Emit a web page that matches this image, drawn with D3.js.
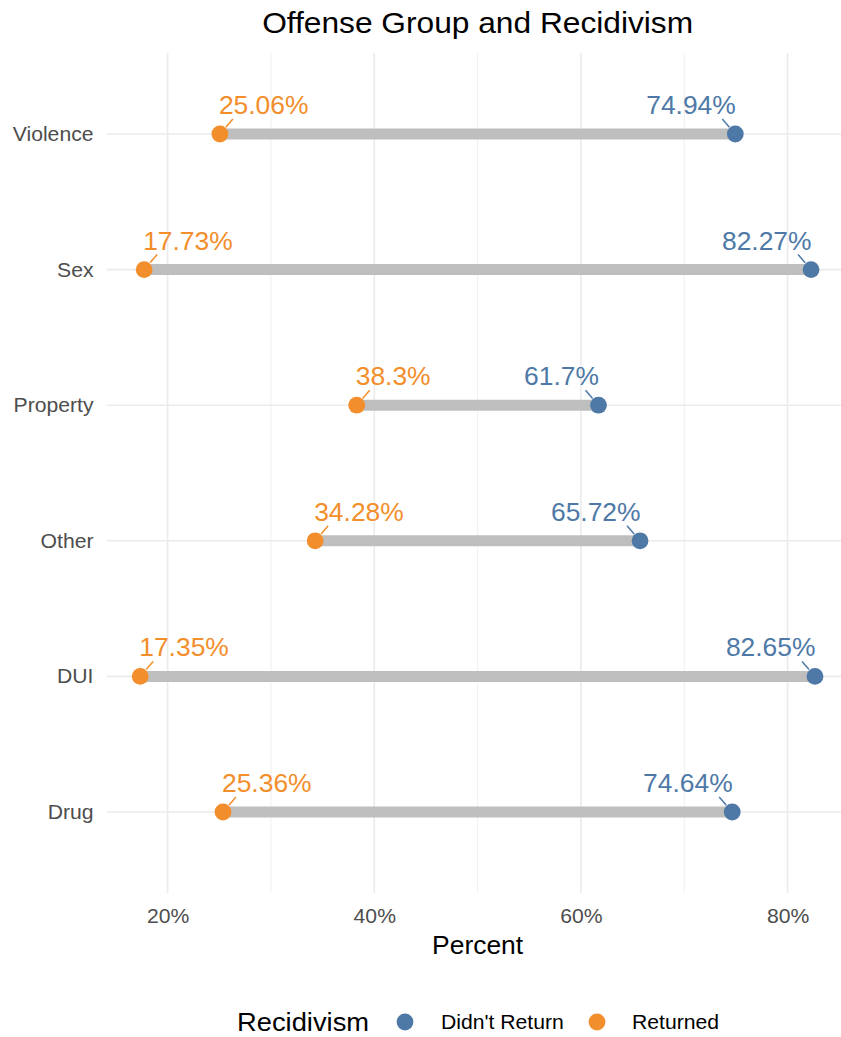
<!DOCTYPE html>
<html>
<head>
<meta charset="utf-8">
<script src="https://cdn.jsdelivr.net/npm/d3@7"></script>
<style>
  html, body { margin: 0; padding: 0; background: #ffffff; }
  svg { display: block; font-family: "Liberation Sans", Arial, sans-serif; }
</style>
</head>
<body>
<script>
// Offense groups, top to bottom
const categories = ["Violence", "Sex", "Property", "Other", "DUI", "Drug"];
// Share of each group that returned / did not return (percent)
const returnedPct = [25.06, 17.73, 38.3, 34.28, 17.35, 25.36];
const didntReturnPct = [74.94, 82.27, 61.7, 65.72, 82.65, 74.64];
// Axis ticks
const majorTicks = [20, 40, 60, 80];
const minorTicks = [30, 50, 70];
const seriesNames = ["Didn't Return", "Returned"];
const seriesColors = ["#4E79A7", "#F28E2B"];

const W = 841, H = 1037;
const stretch = 1.05; // horizontal widening of glyphs
const fs = k => k * 1.12 / stretch; // font size keeping rendered width

const svg = d3.select("body").append("svg")
  .attr("width", W).attr("height", H);

const x = d3.scaleLinear().domain([20, 80]).range([167.6, 787.6]);
const y = d3.scalePoint().domain(categories).range([134, 812]);
const step = y.step();
const panel = {
  left: x(14.085), right: x(85.915),
  top: y(categories[0]) - 0.6 * step,
  bottom: y(categories[categories.length - 1]) + 0.6 * step
};
const color = d3.scaleOrdinal().domain(seriesNames).range(seriesColors);

// Text helper with a slight horizontal stretch
function label(g, txt, px, py, size, fill, anchor) {
  return g.append("text")
    .attr("transform", `translate(${px},${py}) scale(${stretch},1)`)
    .attr("text-anchor", anchor || "start")
    .attr("font-size", fs(size))
    .attr("fill", fill)
    .text(txt);
}

svg.append("defs").append("clipPath").attr("id", "panel")
  .append("rect")
  .attr("x", panel.left).attr("y", panel.top)
  .attr("width", panel.right - panel.left)
  .attr("height", panel.bottom - panel.top);

// Grid
const grid = svg.append("g").attr("clip-path", "url(#panel)");
grid.selectAll("line.minor").data(minorTicks).join("line")
  .attr("x1", d => x(d)).attr("x2", d => x(d))
  .attr("y1", panel.top).attr("y2", panel.bottom)
  .attr("stroke", "#EBEBEB").attr("stroke-width", 0.8);
grid.selectAll("line.majorx").data(majorTicks).join("line")
  .attr("x1", d => x(d)).attr("x2", d => x(d))
  .attr("y1", panel.top).attr("y2", panel.bottom)
  .attr("stroke", "#EBEBEB").attr("stroke-width", 1.6);
grid.selectAll("line.majory").data(categories).join("line")
  .attr("x1", panel.left).attr("x2", panel.right)
  .attr("y1", d => y(d)).attr("y2", d => y(d))
  .attr("stroke", "#EBEBEB").attr("stroke-width", 1.6);

const rows = categories.map((c, i) => ({
  cat: c, ret: returnedPct[i], no: didntReturnPct[i]
}));

// Dumbbell bars
svg.append("g").selectAll("line").data(rows).join("line")
  .attr("x1", d => x(d.ret)).attr("x2", d => x(d.no))
  .attr("y1", d => y(d.cat)).attr("y2", d => y(d.cat))
  .attr("stroke", "#BEBEBE").attr("stroke-width", 11);

const r = 8.4;
const pts = [];
rows.forEach(d => {
  pts.push({ cat: d.cat, v: d.no, s: seriesNames[0], dir: -1 });
  pts.push({ cat: d.cat, v: d.ret, s: seriesNames[1], dir: 1 });
});

// Leader lines from points to labels
const seg = svg.append("g");
pts.forEach(p => {
  const cx = x(p.v), cy = y(p.cat);
  const ex = 13 * p.dir, ey = -15;
  const len = Math.hypot(ex, ey);
  const s = 9 / len;
  seg.append("line")
    .attr("x1", cx + ex * s).attr("y1", cy + ey * s)
    .attr("x2", cx + ex).attr("y2", cy + ey)
    .attr("stroke", color(p.s)).attr("stroke-width", 1.5);
});

// Points
svg.append("g").selectAll("circle").data(pts).join("circle")
  .attr("cx", d => x(d.v)).attr("cy", d => y(d.cat))
  .attr("r", r).attr("fill", d => color(d.s));

// Value labels
const vl = svg.append("g");
pts.forEach(p => {
  const cx = x(p.v), cy = y(p.cat);
  label(vl, `${p.v}%`, p.dir > 0 ? cx - 1 : cx + 0.5, cy - 20, 23.6,
        color(p.s), p.dir > 0 ? "start" : "end");
});

// Y axis labels
const ya = svg.append("g");
categories.forEach(c => {
  label(ya, c, 93.5, y(c) + 7, 18.9, "#4D4D4D", "end");
});

// X axis tick labels
const xAxis = d3.axisBottom(x).tickValues(majorTicks)
  .tickFormat(d => d + "%").tickSize(0);
const xg = svg.append("g").attr("transform", `translate(0,${panel.bottom})`).call(xAxis);
xg.select(".domain").remove();
xg.selectAll(".tick text").remove();
xg.selectAll(".tick").each(function(d) {
  label(d3.select(this), d + "%", 0, 30, 18.9, "#4D4D4D", "middle");
});

// Axis title
label(svg, "Percent", (panel.left + panel.right) / 2, 953.5, 23.6, "#000000", "middle");

// Title
label(svg, "Offense Group and Recidivism", (panel.left + panel.right) / 2, 33, 28.3, "#000000", "middle");

// Legend
const lg = svg.append("g");
const ly = 1022;
label(lg, "Recidivism", 237, ly + 9, 24.4, "#000000", "start");
const legendX = [405, 597];
const legendTextX = [441, 632];
seriesNames.forEach((s, i) => {
  lg.append("circle").attr("cx", legendX[i]).attr("cy", ly).attr("r", r).attr("fill", color(s));
  label(lg, s, legendTextX[i], ly + 7, 18.9, "#000000", "start");
});
</script>
</body>
</html>
